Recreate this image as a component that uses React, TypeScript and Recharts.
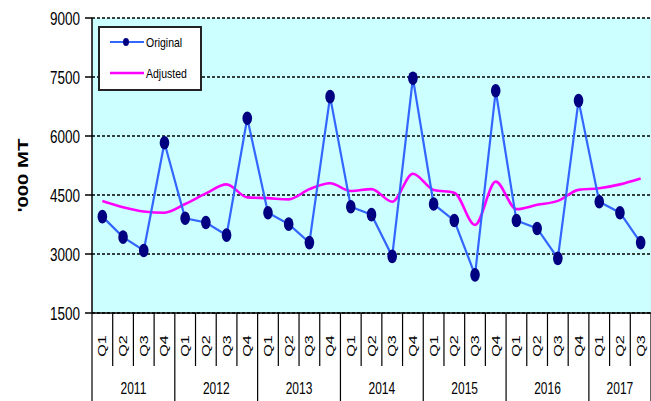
import { LineChart, Line, XAxis, YAxis, CartesianGrid, Legend } from 'recharts';

const years = ['2011', '2012', '2013', '2014', '2015', '2016', '2017'];
const quartersPerYear = [4, 4, 4, 4, 4, 4, 3];
const quarterNames = ['Q1', 'Q2', 'Q3', 'Q4'];

const original = [
  3950, 3430, 3090, 5830,
  3910, 3800, 3480, 6450,
  4050, 3760, 3290, 7000,
  4200, 4000, 2940, 7470,
  4270, 3850, 2470, 7150,
  3850, 3650, 2890, 6900,
  4330, 4050, 3290,
];

const adjusted = [
  4350, 4190, 4080, 4050,
  4270, 4540, 4770, 4440,
  4420, 4390, 4650, 4800,
  4600, 4650, 4330, 5040,
  4630, 4560, 3740, 4840,
  4140, 4250, 4350, 4630,
  4670, 4770, 4920,
];

const yTicks = [1500, 3000, 4500, 6000, 7500, 9000];

const periods: { year: string; q: string; yearSize: number }[] = [];
years.forEach((yr, i) => {
  for (let k = 0; k < quartersPerYear[i]; k++) {
    periods.push({ year: yr, q: quarterNames[k], yearSize: quartersPerYear[i] });
  }
});

const data = periods.map((p, i) => ({
  period: `${p.year} ${p.q}`,
  year: p.year,
  q: p.q,
  yearSize: p.yearSize,
  original: original[i],
  adjusted: adjusted[i],
}));

const W = 651;
const H = 401;
const Y_AXIS_W = 92;
const X_AXIS_H = 88;
const BAND = (W - Y_AXIS_W) / data.length;
const FONT = '"Liberation Sans", Arial, sans-serif';

const QuarterTick = (props: any) => {
  const { x, y, index } = props;
  const d = data[index];
  if (!d) return null;
  const half = BAND / 2;
  const next = data[index + 1];
  const lastOfYear = !next || next.year !== d.year;
  const firstOfYear = d.q === 'Q1';
  const yearCx = x + ((d.yearSize - 1) / 2) * BAND;
  return (
    <g>
      <text
        transform={`translate(${x + 4},${y + 33}) scale(1,1.4) rotate(-90)`}
        textAnchor="middle"
        fontSize={11.5}
        fontFamily={FONT}
        fill="#000"
      >
        {d.q}
      </text>
      {index === 0 && (
        <line x1={x - half} x2={x - half} y1={y} y2={y + X_AXIS_H} stroke="#000" strokeWidth={1.2} />
      )}
      <line
        x1={x + half}
        x2={x + half}
        y1={y}
        y2={lastOfYear ? y + X_AXIS_H : y + 53}
        stroke="#000"
        strokeWidth={1.2}
      />
      {firstOfYear && (
        <text
          transform={`translate(${yearCx},${y + 81}) scale(1,1.4)`}
          textAnchor="middle"
          fontSize={12}
          fontFamily={FONT}
          fill="#000"
        >
          {d.year}
        </text>
      )}
    </g>
  );
};

const ValueTick = (props: any) => {
  const { x, y, payload } = props;
  return (
    <text
      transform={`translate(${x},${y}) scale(1,1.35)`}
      textAnchor="end"
      dy="0.36em"
      fontSize={13.5}
      fontFamily={FONT}
      fill="#000"
    >
      {payload.value}
    </text>
  );
};

const UnitLabel = (props: any) => {
  const vb = props.viewBox || { x: 0, y: 18, width: 92, height: 295 };
  const cx = vb.x + 23;
  const cy = vb.y + vb.height / 2 + 10;
  return (
    <text
      transform={`translate(${cx + 5},${cy}) scale(1,1.45) rotate(-90)`}
      textAnchor="middle"
      fontSize={14}
      fontWeight="bold"
      fontFamily={FONT}
      fill="#000"
    >
      '000 MT
    </text>
  );
};

const OriginalDot = (props: any) => {
  const { cx, cy, index } = props;
  if (cx == null || cy == null) return <g key={index} />;
  return <ellipse key={index} cx={cx} cy={cy} rx={4.8} ry={6.8} fill="#000080" />;
};

const LegendBox = (props: any) => {
  const items = (props.payload || []).slice().sort((a: any, b: any) =>
    a.value === 'Original' ? -1 : b.value === 'Original' ? 1 : 0
  );
  return (
    <svg width={105} height={66} style={{ display: 'block' }}>
      <rect x={1} y={1} width={102} height={63} fill="#fff" stroke="#222" strokeWidth={2} />
      {items.map((it: any, i: number) => {
        const ry = 16 + i * 31;
        return (
          <g key={it.value}>
            <line x1={12} x2={46} y1={ry} y2={ry} stroke={it.color} strokeWidth={it.value === 'Original' ? 2.2 : 2.6} />
            {it.value === 'Original' && <ellipse cx={28} cy={ry} rx={3} ry={4} fill="#000080" />}
            <text
              transform={`translate(48,${ry}) scale(1,1.3)`}
              dy="0.36em"
              fontSize={10.5}
              fontFamily={FONT}
              fill="#000"
            >
              {it.value}
            </text>
          </g>
        );
      })}
    </svg>
  );
};

export default function App() {
  return (
    <div style={{ position: 'absolute', left: 0, top: 0, width: W, height: H, background: '#fff' }}>
      <LineChart width={W} height={H} data={data} margin={{ top: 18, right: 0, bottom: 0, left: 0 }}>
        <CartesianGrid
          vertical={false}
          stroke="#000"
          strokeWidth={1.5}
          strokeDasharray="3 2"
          fill="#CCFFFF"
          fillOpacity={1}
        />
        <XAxis
          dataKey="period"
          interval={0}
          height={X_AXIS_H}
          padding={{ left: BAND / 2, right: BAND / 2 }}
          tickSize={0}
          tickMargin={0}
          tickLine={false}
          axisLine={{ stroke: '#000', strokeWidth: 1.5 }}
          tick={<QuarterTick />}
        />
        <YAxis
          width={Y_AXIS_W}
          domain={[1500, 9000]}
          ticks={yTicks}
          interval={0}
          tickSize={7}
          tickMargin={5}
          tickLine={{ stroke: '#000', strokeWidth: 1.5 }}
          axisLine={{ stroke: '#000', strokeWidth: 1.5 }}
          tick={<ValueTick />}
          label={{ content: <UnitLabel /> }}
        />
        <Legend
          layout="vertical"
          align="center"
          verticalAlign="middle"
          content={<LegendBox />}
          wrapperStyle={{ left: 98, top: 26, width: 105, height: 66 }}
        />
        <Line
          type="monotone"
          dataKey="adjusted"
          name="Adjusted"
          stroke="#FF00FF"
          strokeWidth={2.6}
          dot={false}
          activeDot={false}
          isAnimationActive={false}
        />
        <Line
          type="linear"
          dataKey="original"
          name="Original"
          stroke="#3366FF"
          strokeWidth={2.2}
          dot={<OriginalDot />}
          activeDot={false}
          isAnimationActive={false}
        />
      </LineChart>
    </div>
  );
}
